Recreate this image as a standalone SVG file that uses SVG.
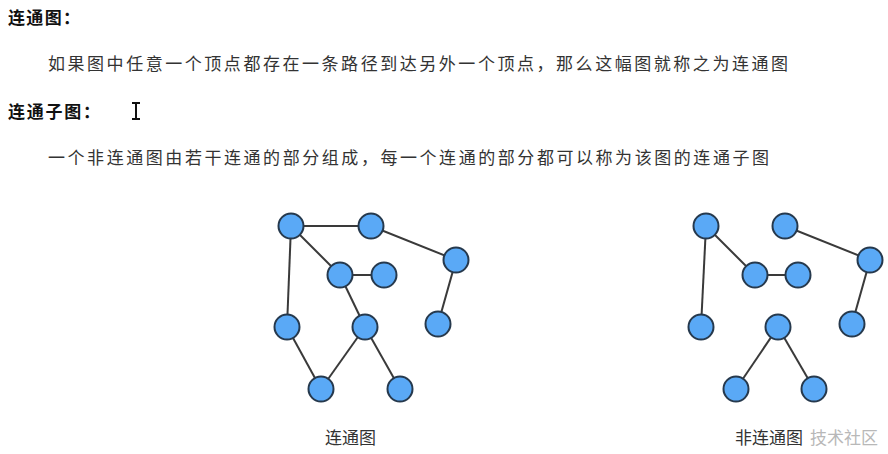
<svg xmlns="http://www.w3.org/2000/svg" width="888" height="454" viewBox="0 0 888 454">
<style>
text{font-family:"Liberation Sans","Noto Sans CJK SC",sans-serif;}
.h{font-size:17px;font-weight:bold;fill:#111;}
.b{font-size:17px;fill:#333;}
.cap{font-size:17px;fill:#333;}
.wm{font-size:17px;fill:#b8b8b8;}
.n{fill:#5aa9f6;stroke:#26394d;stroke-width:2;}
.e{stroke:#3a3a3a;stroke-width:2;fill:none;}
</style>
<rect width="888" height="454" fill="#fff"/>
<text class="h" x="8" y="24" textLength="72" lengthAdjust="spacing">连通图：</text>
<text class="b" x="48" y="70" textLength="740" lengthAdjust="spacing">如果图中任意一个顶点都存在一条路径到达另外一个顶点，那么这幅图就称之为连通图</text>
<text class="h" x="8" y="118" textLength="92" lengthAdjust="spacing">连通子图：</text>
<path d="M132 103h8M136 103v16M132 119h8" stroke="#111" stroke-width="2" fill="none"/>
<text class="b" x="48" y="164" textLength="721" lengthAdjust="spacing">一个非连通图由若干连通的部分组成，每一个连通的部分都可以称为该图的连通子图</text>
<g id="connectors">
<line class="e" x1="291" y1="226" x2="371" y2="226"/>
<line class="e" x1="371" y1="226" x2="456" y2="260"/>
<line class="e" x1="291" y1="226" x2="340" y2="275"/>
<line class="e" x1="291" y1="226" x2="287" y2="327"/>
<line class="e" x1="340" y1="275" x2="384" y2="275"/>
<line class="e" x1="340" y1="275" x2="365" y2="327"/>
<line class="e" x1="456" y1="260" x2="438" y2="324"/>
<line class="e" x1="287" y1="327" x2="321" y2="389"/>
<line class="e" x1="365" y1="327" x2="321" y2="389"/>
<line class="e" x1="365" y1="327" x2="400" y2="389"/>
<line class="e" x1="706" y1="226" x2="755" y2="275"/>
<line class="e" x1="706" y1="226" x2="701" y2="327"/>
<line class="e" x1="755" y1="275" x2="798" y2="275"/>
<line class="e" x1="785" y1="226" x2="870" y2="260"/>
<line class="e" x1="870" y1="260" x2="852" y2="324"/>
<line class="e" x1="778" y1="327" x2="736" y2="389"/>
<line class="e" x1="778" y1="327" x2="814" y2="389"/>
</g>
<g id="L-A"><circle class="n" cx="291" cy="226" r="12.5"/></g>
<g id="L-B"><circle class="n" cx="371" cy="226" r="12.5"/></g>
<g id="L-C"><circle class="n" cx="456" cy="260" r="12.5"/></g>
<g id="L-D"><circle class="n" cx="340" cy="275" r="12.5"/></g>
<g id="L-E"><circle class="n" cx="384" cy="275" r="12.5"/></g>
<g id="L-F"><circle class="n" cx="287" cy="327" r="12.5"/></g>
<g id="L-G"><circle class="n" cx="365" cy="327" r="12.5"/></g>
<g id="L-H"><circle class="n" cx="438" cy="324" r="12.5"/></g>
<g id="L-I"><circle class="n" cx="321" cy="389" r="12.5"/></g>
<g id="L-J"><circle class="n" cx="400" cy="389" r="12.5"/></g>
<g id="R-A"><circle class="n" cx="706" cy="226" r="12.5"/></g>
<g id="R-B"><circle class="n" cx="785" cy="226" r="12.5"/></g>
<g id="R-C"><circle class="n" cx="870" cy="260" r="12.5"/></g>
<g id="R-D"><circle class="n" cx="755" cy="275" r="12.5"/></g>
<g id="R-E"><circle class="n" cx="798" cy="275" r="12.5"/></g>
<g id="R-F"><circle class="n" cx="701" cy="327" r="12.5"/></g>
<g id="R-G"><circle class="n" cx="778" cy="327" r="12.5"/></g>
<g id="R-H"><circle class="n" cx="852" cy="324" r="12.5"/></g>
<g id="R-I"><circle class="n" cx="736" cy="389" r="12.5"/></g>
<g id="R-J"><circle class="n" cx="814" cy="389" r="12.5"/></g>
<text class="cap" x="325" y="444">连通图</text>
<text class="cap" x="735" y="444">非连通图</text>
<text class="wm" x="810" y="444">技术社区</text>
</svg>
